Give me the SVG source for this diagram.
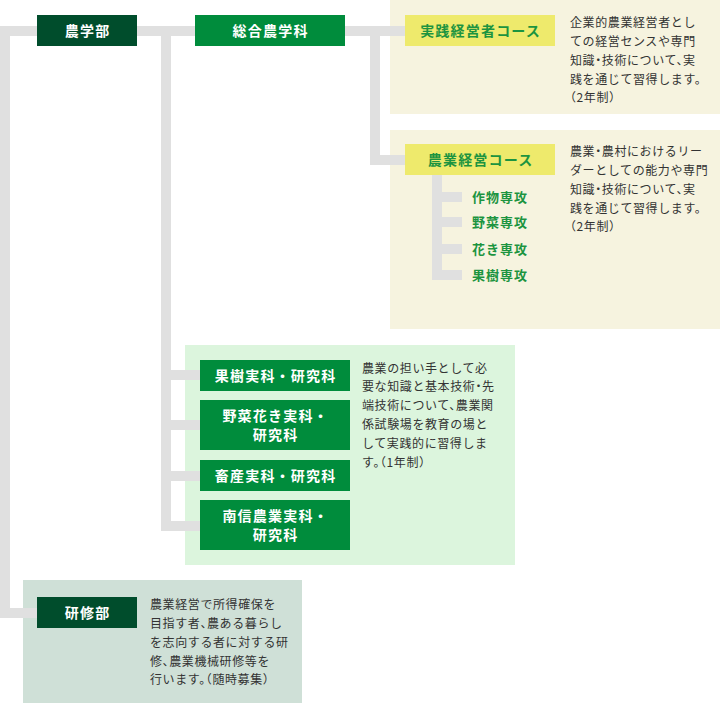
<svg xmlns="http://www.w3.org/2000/svg" width="720" height="703" viewBox="0 0 720 703">
<style>
.ln{fill:#e0e0e0}
.pY{fill:#f6f3df}
.pG{fill:#dcf5dd}
.pS{fill:#cfe0d7}
.bDk{fill:#004d2c}
.bGr{fill:#008c3c}
.bYe{fill:#eeea6c}
text{font-family:"Noto Sans CJK JP","Noto Sans",sans-serif}
.lbl{font-size:14px;font-weight:700;letter-spacing:1.2px;fill:#fff;text-anchor:middle}
.lblY{font-size:14px;font-weight:700;letter-spacing:1.2px;fill:#1c9440;text-anchor:middle}
.sub{font-size:13px;font-weight:700;letter-spacing:1px;fill:#1c9440}
.desc{font-size:12px;letter-spacing:0.6px;fill:#333;font-feature-settings:"halt"}
</style>
<g id="panels">
<rect class="pY" x="390" y="0" width="330" height="114"/>
<rect class="pY" x="390" y="130" width="330" height="199"/>
<rect class="pG" x="185" y="345" width="330" height="220"/>
<rect class="pS" x="23" y="580" width="279" height="123"/>
</g>
<g id="connectors">
<rect class="ln" x="0" y="26" width="405" height="10"/>
<rect class="ln" x="0" y="26" width="10" height="592"/>
<rect class="ln" x="0" y="608" width="37" height="10"/>
<rect class="ln" x="161" y="26" width="10" height="505"/>
<rect class="ln" x="161" y="370" width="39" height="10"/>
<rect class="ln" x="161" y="420" width="39" height="10"/>
<rect class="ln" x="161" y="471" width="39" height="10"/>
<rect class="ln" x="161" y="521" width="39" height="10"/>
<rect class="ln" x="370" y="26" width="10" height="139"/>
<rect class="ln" x="370" y="155" width="35" height="10"/>
<rect class="ln" x="432" y="175" width="10" height="105"/>
<rect class="ln" x="432" y="192" width="30" height="10"/>
<rect class="ln" x="432" y="217" width="30" height="10"/>
<rect class="ln" x="432" y="244" width="30" height="10"/>
<rect class="ln" x="432" y="270" width="30" height="10"/>
</g>
<g id="nougakubu">
<rect class="bDk" x="37" y="15" width="100" height="31"/>
<text class="lbl" x="87.6" y="35.8">農学部</text>
</g>
<g id="sougou">
<rect class="bGr" x="195" y="15" width="150" height="31"/>
<text class="lbl" x="270.6" y="35.8">総合農学科</text>
</g>
<g id="jissen">
<rect class="bYe" x="405" y="15" width="150" height="31"/>
<text class="lblY" x="480.6" y="35.8">実践経営者コース</text>
<text class="desc" x="570"><tspan x="570" y="27.1">企業的農業経営者とし</tspan><tspan x="570" y="45.9">ての経営センスや専門</tspan><tspan x="570" y="64.7">知識・技術について、実</tspan><tspan x="570" y="83.5">践を通じて習得します。</tspan><tspan x="570" y="102.3">（2年制）</tspan></text>
</g>
<g id="keiei">
<rect class="bYe" x="405" y="144" width="150" height="31"/>
<text class="lblY" x="480.6" y="164.8">農業経営コース</text>
<text class="desc" x="570"><tspan x="570" y="156.1">農業・農村におけるリー</tspan><tspan x="570" y="174.9">ダーとしての能力や専門</tspan><tspan x="570" y="193.7">知識・技術について、実</tspan><tspan x="570" y="212.5">践を通じて習得します。</tspan><tspan x="570" y="231.3">（2年制）</tspan></text>
</g>
<g id="senkou">
<text class="sub" x="472" y="201.9">作物専攻</text>
<text class="sub" x="472" y="226.9">野菜専攻</text>
<text class="sub" x="472" y="253.9">花き専攻</text>
<text class="sub" x="472" y="279.9">果樹専攻</text>
</g>
<g id="kaju">
<rect class="bGr" x="200" y="360" width="150" height="31"/>
<text class="lbl" x="275.6" y="380.8">果樹実科・研究科</text>
</g>
<g id="yasai">
<rect class="bGr" x="200" y="400" width="150" height="50"/>
<text class="lbl" x="275.6"><tspan x="275.6" y="420.8">野菜花き実科・</tspan><tspan x="275.6" y="439.8">研究科</tspan></text>
</g>
<g id="chikusan">
<rect class="bGr" x="200" y="460" width="150" height="31"/>
<text class="lbl" x="275.6" y="480.8">畜産実科・研究科</text>
</g>
<g id="nanshin">
<rect class="bGr" x="200" y="500" width="150" height="50"/>
<text class="lbl" x="275.6"><tspan x="275.6" y="520.8">南信農業実科・</tspan><tspan x="275.6" y="539.8">研究科</tspan></text>
</g>
<g id="jikka-desc">
<text class="desc"><tspan x="362" y="372.6">農業の担い手として必</tspan><tspan x="362" y="391.4">要な知識と基本技術・先</tspan><tspan x="362" y="410.2">端技術について、農業関</tspan><tspan x="362" y="429">係試験場を教育の場と</tspan><tspan x="362" y="447.8">して実践的に習得しま</tspan><tspan x="362" y="466.6">す。（1年制）</tspan></text>
</g>
<g id="kenshubu">
<rect class="bDk" x="37" y="597" width="100" height="31"/>
<text class="lbl" x="87.6" y="617.8">研修部</text>
<text class="desc"><tspan x="150" y="609.1">農業経営で所得確保を</tspan><tspan x="150" y="627.9">目指す者、農ある暮らし</tspan><tspan x="150" y="646.7">を志向する者に対する研</tspan><tspan x="150" y="665.5">修、農業機械研修等を</tspan><tspan x="150" y="684.3">行います。（随時募集）</tspan></text>
</g>
</svg>
